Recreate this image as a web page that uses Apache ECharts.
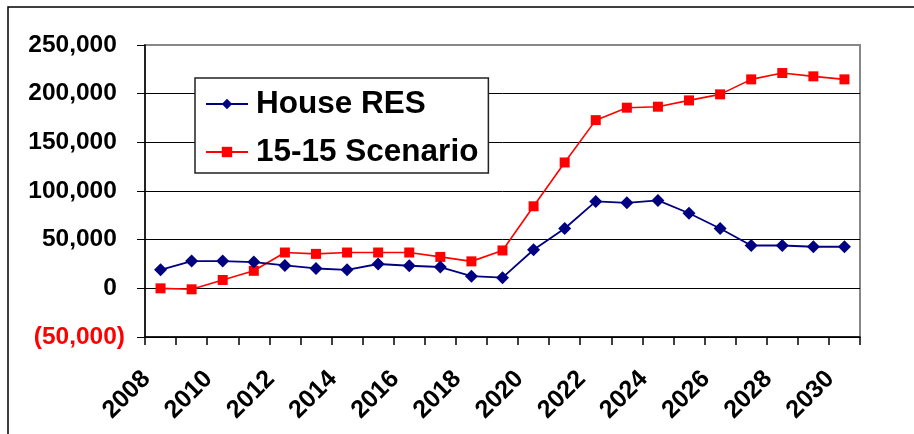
<!DOCTYPE html>
<html>
<head>
<meta charset="utf-8">
<script src="https://cdn.jsdelivr.net/npm/echarts@6/dist/echarts.min.js"></script>
<style>
html,body{margin:0;padding:0;background:#fff;}
#chart{width:914px;height:434px;}
</style>
</head>
<body>
<div id="chart"></div>
<script>
var years = ['2008','2009','2010','2011','2012','2013','2014','2015','2016','2017','2018','2019','2020','2021','2022','2023','2024','2025','2026','2027','2028','2029','2030'];
var houseRES = [19000,28000,28000,27000,23500,20400,19000,25000,23200,21900,12500,11000,39600,61500,89300,87800,90300,77100,61500,44000,44000,42700,42700];
var scenario1515 = [0,-1000,8600,18000,36800,35400,36800,36800,36800,32300,27700,38900,84300,129300,172800,185600,186600,193100,199300,214700,221200,217800,214700];
var seriesNames = ['House RES','15-15 Scenario'];
var yMin = -50000, yMax = 250000, yStep = 50000;

var FONT = '"Liberation Sans", Arial, sans-serif';
function fmt(v){
  var s = Math.abs(v).toString().replace(/\B(?=(\d{3})+(?!\d))/g, ',');
  if (v < 0) return '{neg|(' + s + ')}';
  return '{pos|' + s + '}{pad|)}';
}

var chart = echarts.init(document.getElementById('chart'), null, {renderer:'canvas'});
chart.setOption({
  backgroundColor:'#fff',
  animation:false,
  graphic:[{
    type:'rect', silent:true,
    shape:{x:8, y:7, width:1000, height:1000},
    style:{fill:'none', stroke:'#000', lineWidth:1.5}
  }],
  grid:{left:145, right:54, top:45, bottom:97, show:true, borderColor:'#888', borderWidth:2, backgroundColor:'#fff'},
  legend:{
    orient:'vertical', left:195, top:78,
    padding:[10,10,5,10], itemGap:16,
    itemWidth:42, itemHeight:13,
    backgroundColor:'#fff', borderColor:'#222', borderWidth:1.5,
    textStyle:{fontFamily:FONT, fontWeight:'bold', fontSize:31.5, lineHeight:30, color:'#000', padding:[0,0,0,3]},
    data:seriesNames
  },
  xAxis:{
    type:'category', data:years, boundaryGap:true,
    axisLine:{onZero:false, lineStyle:{color:'#000', width:1.5}},
    axisTick:{show:true, interval:0, length:8, lineStyle:{color:'#000', width:1.5}},
    axisLabel:{interval:1, rotate:45, margin:24, padding:[0,20,0,0], fontFamily:FONT, fontWeight:'bold', fontSize:25, color:'#000'},
    splitLine:{show:false}
  },
  yAxis:{
    type:'value', min:yMin, max:yMax, interval:yStep,
    axisLine:{show:true, lineStyle:{color:'#000', width:1.5}},
    axisTick:{show:true, length:8, lineStyle:{color:'#000', width:1}},
    axisLabel:{margin:20, formatter:fmt,
      rich:{
        pos:{fontFamily:FONT, fontWeight:'bold', fontSize:24.5, color:'#000'},
        pad:{fontFamily:FONT, fontWeight:'bold', fontSize:24.5, color:'rgba(0,0,0,0)'},
        neg:{fontFamily:FONT, fontWeight:'bold', fontSize:24.5, color:'#ff0000'}
      }},
    splitLine:{show:true, lineStyle:{color:['#000','#000','#000','#000','#000','#000','#888'], width:1}}
  },
  series:[
    {name:seriesNames[0], type:'line', data:houseRES, symbol:'diamond', symbolSize:13,
     lineStyle:{color:'#000080', width:1.8}, itemStyle:{color:'#000080'}, z:3},
    {name:seriesNames[1], type:'line', data:scenario1515, symbol:'rect', symbolSize:10,
     lineStyle:{color:'#ff0000', width:1.6}, itemStyle:{color:'#ff0000'}, z:2}
  ]
});
</script>
</body>
</html>
